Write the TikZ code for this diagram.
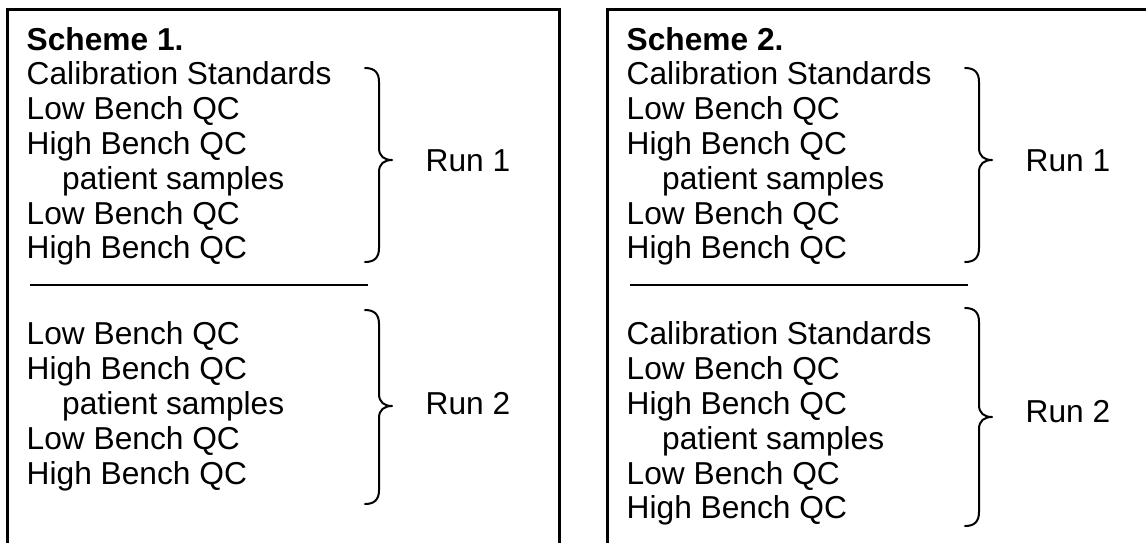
\documentclass[tikz,border=0pt]{standalone}
\usepackage{fontspec}
\setmainfont{Liberation Sans}
\newcommand\mybrace[4]{%
  \draw[brc] (#1+365,#2) .. controls (#1+374,#2) and (#1+379,#2+4) .. (#1+379,#2+14)
    -- (#1+379,#3-12) .. controls (#1+379,#3-4) and (#1+384,#3) .. (#1+392,#3)
    .. controls (#1+384,#3) and (#1+379,#3+4) .. (#1+379,#3+12)
    -- (#1+379,#4-14) .. controls (#1+379,#4-4) and (#1+374,#4) .. (#1+365,#4);}
\begin{document}
\begin{tikzpicture}[x=1pt,y=-1pt,
  txt/.style={anchor=base west,inner sep=0pt,font=\fontsize{31.7}{35}\selectfont},
  ttl/.style={txt,font=\fontsize{31.7}{35}\selectfont\bfseries},
  frame/.style={line width=3pt},
  rulel/.style={line width=2.6pt},
  brc/.style={line width=2pt,line join=round,line cap=round}]
\useasboundingbox (0,0) rectangle (1146,542);
\clip (0,0) rectangle (1146,542);
\fill[white] (0,0) rectangle (1146,542);
% frames
\draw[frame] (7,560) -- (7,9.5) -- (559,9.5) -- (559,560);
\draw[frame] (607,560) -- (607,9.5) -- (1159,9.5) -- (1159,560);
% ---------- Scheme 1 ----------
\node[ttl] (s1) at (26.5,50) {Scheme 1.};
\node[txt] (l1a) at (26.5,84.8) {Calibration Standards};
\node[txt] (l1b) at (26.5,119.6) {Low Bench QC};
\node[txt] (l1c) at (26.5,154.4) {High Bench QC};
\node[txt] (l1d) at (62,189.2) {patient samples};
\node[txt] (l1e) at (26.5,224) {Low Bench QC};
\node[txt] (l1f) at (26.5,258.8) {High Bench QC};
\draw[rulel] (30,285) -- (368,285);
\node[txt] (l2a) at (26.5,344.8) {Low Bench QC};
\node[txt] (l2b) at (26.5,379.6) {High Bench QC};
\node[txt] (l2c) at (62,414.4) {patient samples};
\node[txt] (l2d) at (26.5,449.2) {Low Bench QC};
\node[txt] (l2e) at (26.5,484) {High Bench QC};
\mybrace{0}{68}{160}{262}
\mybrace{0}{310}{406}{504}
\node[txt] (r1l) at (425.5,171) {Run 1};
\node[txt] (r2l) at (425.5,414) {Run 2};
% ---------- Scheme 2 ----------
\node[ttl] (s2) at (626.5,50) {Scheme 2.};
\node[txt] (m1a) at (626.5,84.8) {Calibration Standards};
\node[txt] (m1b) at (626.5,119.6) {Low Bench QC};
\node[txt] (m1c) at (626.5,154.4) {High Bench QC};
\node[txt] (m1d) at (662,189.2) {patient samples};
\node[txt] (m1e) at (626.5,224) {Low Bench QC};
\node[txt] (m1f) at (626.5,258.8) {High Bench QC};
\draw[rulel] (630,285) -- (968,285);
\node[txt] (m2a) at (626.5,344.8) {Calibration Standards};
\node[txt] (m2b) at (626.5,379.6) {Low Bench QC};
\node[txt] (m2c) at (626.5,414.4) {High Bench QC};
\node[txt] (m2d) at (662,449.2) {patient samples};
\node[txt] (m2e) at (626.5,484) {Low Bench QC};
\node[txt] (m2f) at (626.5,518.8) {High Bench QC};
\mybrace{600}{68}{160}{262}
\mybrace{600}{308}{417}{526}
\node[txt] (r1r) at (1025.5,171) {Run 1};
\node[txt] (r2r) at (1025.5,422) {Run 2};
\end{tikzpicture}
\end{document}
